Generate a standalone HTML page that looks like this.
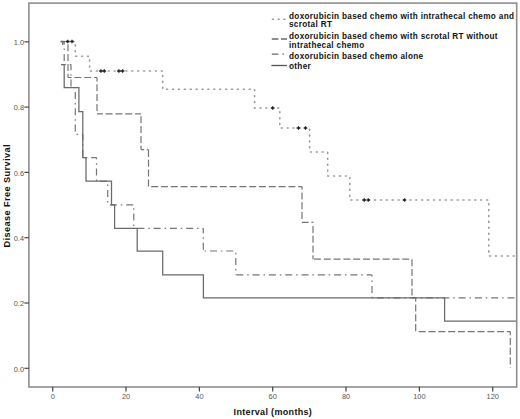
<!DOCTYPE html>
<html><head><meta charset="utf-8"><style>
html,body{margin:0;padding:0;background:#fff;}
body{width:520px;height:419px;overflow:hidden;}
svg{display:block;}
.tl{font-family:"Liberation Sans",sans-serif;font-size:7.4px;fill:#555;}
.lg{font-family:"Liberation Sans",sans-serif;font-size:8.2px;letter-spacing:0.32px;font-weight:bold;fill:#111;}
.at{font-family:"Liberation Sans",sans-serif;font-size:9px;letter-spacing:0.33px;font-weight:bold;fill:#111;}
.at2{font-family:"Liberation Sans",sans-serif;font-size:9.2px;letter-spacing:0.4px;font-weight:bold;fill:#111;}
</style></head><body>
<svg width="520" height="419" viewBox="0 0 520 419">
<rect x="28.9" y="3.1" width="487.8" height="383.9" fill="none" stroke="#8e8e8e" stroke-width="1.6"/>
<line x1="52.7" y1="386.8" x2="52.7" y2="391.5" stroke="#444" stroke-width="1.2"/>
<text x="52.7" y="399.3" class="tl" text-anchor="middle">0</text>
<line x1="126.0" y1="386.8" x2="126.0" y2="391.5" stroke="#444" stroke-width="1.2"/>
<text x="126.0" y="399.3" class="tl" text-anchor="middle">20</text>
<line x1="199.4" y1="386.8" x2="199.4" y2="391.5" stroke="#444" stroke-width="1.2"/>
<text x="199.4" y="399.3" class="tl" text-anchor="middle">40</text>
<line x1="272.7" y1="386.8" x2="272.7" y2="391.5" stroke="#444" stroke-width="1.2"/>
<text x="272.7" y="399.3" class="tl" text-anchor="middle">60</text>
<line x1="346.0" y1="386.8" x2="346.0" y2="391.5" stroke="#444" stroke-width="1.2"/>
<text x="346.0" y="399.3" class="tl" text-anchor="middle">80</text>
<line x1="419.4" y1="386.8" x2="419.4" y2="391.5" stroke="#444" stroke-width="1.2"/>
<text x="419.4" y="399.3" class="tl" text-anchor="middle">100</text>
<line x1="492.7" y1="386.8" x2="492.7" y2="391.5" stroke="#444" stroke-width="1.2"/>
<text x="492.7" y="399.3" class="tl" text-anchor="middle">120</text>
<line x1="24.4" y1="368.3" x2="28.9" y2="368.3" stroke="#444" stroke-width="1.2"/>
<text x="24" y="371.6" class="tl" text-anchor="end">0.0</text>
<line x1="24.4" y1="303.0" x2="28.9" y2="303.0" stroke="#444" stroke-width="1.2"/>
<text x="24" y="306.3" class="tl" text-anchor="end">0.2</text>
<line x1="24.4" y1="237.7" x2="28.9" y2="237.7" stroke="#444" stroke-width="1.2"/>
<text x="24" y="241.0" class="tl" text-anchor="end">0.4</text>
<line x1="24.4" y1="172.4" x2="28.9" y2="172.4" stroke="#444" stroke-width="1.2"/>
<text x="24" y="175.7" class="tl" text-anchor="end">0.6</text>
<line x1="24.4" y1="107.1" x2="28.9" y2="107.1" stroke="#444" stroke-width="1.2"/>
<text x="24" y="110.4" class="tl" text-anchor="end">0.8</text>
<line x1="24.4" y1="41.8" x2="28.9" y2="41.8" stroke="#444" stroke-width="1.2"/>
<text x="24" y="45.1" class="tl" text-anchor="end">1.0</text>
<path d="M61.0 41.5 L75.3 41.5 L75.3 56.3 L89.6 56.3 L89.6 71.0 L162.7 71.0 L162.7 89.3 L254.6 89.3 L254.6 108.0 L279.8 108.0 L279.8 128.0 L309.6 128.0 L309.6 152.0 L327.7 152.0 L327.7 176.0 L349.8 176.0 L349.8 200.0 L488.8 200.0 L488.8 256.0 L516.0 256.0" fill="none" stroke="#9a9a9a" stroke-width="1.6" stroke-dasharray="1.0 4.9" stroke-linecap="round"/>
<path d="M61.0 41.5 L68.0 41.5" fill="none" stroke="#767676" stroke-width="1.2" stroke-dasharray="7 2.8" stroke-dashoffset="0.00"/>
<path d="M68.0 41.5 L68.0 77.5" fill="none" stroke="#767676" stroke-width="1.2" stroke-dasharray="7 2.8" stroke-dashoffset="7.00"/>
<path d="M68.0 77.5 L97.0 77.5" fill="none" stroke="#767676" stroke-width="1.2" stroke-dasharray="7 2.8" stroke-dashoffset="3.40"/>
<path d="M97.0 77.5 L97.0 113.8" fill="none" stroke="#767676" stroke-width="1.2" stroke-dasharray="7 2.8" stroke-dashoffset="3.00"/>
<path d="M97.0 113.8 L141.0 113.8" fill="none" stroke="#767676" stroke-width="1.2" stroke-dasharray="7 2.8" stroke-dashoffset="1.20"/>
<path d="M141.0 113.8 L141.0 149.6" fill="none" stroke="#767676" stroke-width="1.2" stroke-dasharray="7 2.8" stroke-dashoffset="7.30"/>
<path d="M141.0 149.6 L148.5 149.6" fill="none" stroke="#767676" stroke-width="1.2" stroke-dasharray="7 2.8" stroke-dashoffset="3.90"/>
<path d="M148.5 149.6 L148.5 186.6" fill="none" stroke="#767676" stroke-width="1.2" stroke-dasharray="7 2.8" stroke-dashoffset="9.40"/>
<path d="M148.5 186.6 L302.0 186.6" fill="none" stroke="#767676" stroke-width="1.2" stroke-dasharray="7 2.8" stroke-dashoffset="7.10"/>
<path d="M302.0 186.6 L302.0 222.3" fill="none" stroke="#767676" stroke-width="1.2" stroke-dasharray="7 2.8" stroke-dashoffset="3.90"/>
<path d="M302.0 222.3 L313.0 222.3" fill="none" stroke="#767676" stroke-width="1.2" stroke-dasharray="7 2.8" stroke-dashoffset="0.40"/>
<path d="M313.0 222.3 L313.0 259.2" fill="none" stroke="#767676" stroke-width="1.2" stroke-dasharray="7 2.8" stroke-dashoffset="6.20"/>
<path d="M313.0 259.2 L412.0 259.2" fill="none" stroke="#767676" stroke-width="1.2" stroke-dasharray="7 2.8" stroke-dashoffset="8.80"/>
<path d="M412.0 259.2 L412.0 297.7" fill="none" stroke="#767676" stroke-width="1.2" stroke-dasharray="7 2.8" stroke-dashoffset="9.80"/>
<path d="M412.0 297.7 L415.7 297.7" fill="none" stroke="#767676" stroke-width="1.2" stroke-dasharray="7 2.8" stroke-dashoffset="9.10"/>
<path d="M415.7 297.7 L415.7 331.6" fill="none" stroke="#767676" stroke-width="1.2" stroke-dasharray="7 2.8" stroke-dashoffset="3.00"/>
<path d="M415.7 331.6 L510.3 331.6" fill="none" stroke="#767676" stroke-width="1.2" stroke-dasharray="7 2.8" stroke-dashoffset="6.80"/>
<path d="M510.3 331.6 L510.3 368.0" fill="none" stroke="#767676" stroke-width="1.2" stroke-dasharray="7 2.8" stroke-dashoffset="3.40"/>
<path d="M61.0 41.5 L64.2 41.5" fill="none" stroke="#767676" stroke-width="1.2" stroke-dasharray="7 3.9 1.5 3.9" stroke-dashoffset="0.00"/>
<path d="M64.2 41.5 L64.2 64.6" fill="none" stroke="#767676" stroke-width="1.2" stroke-dasharray="7 3.9 1.5 3.9" stroke-dashoffset="3.90"/>
<path d="M64.2 64.6 L71.0 64.6" fill="none" stroke="#767676" stroke-width="1.2" stroke-dasharray="7 3.9 1.5 3.9" stroke-dashoffset="10.70"/>
<path d="M71.0 64.6 L71.0 87.6" fill="none" stroke="#767676" stroke-width="1.2" stroke-dasharray="7 3.9 1.5 3.9" stroke-dashoffset="1.30"/>
<path d="M71.0 87.6 L75.3 87.6" fill="none" stroke="#767676" stroke-width="1.2" stroke-dasharray="7 3.9 1.5 3.9" stroke-dashoffset="8.00"/>
<path d="M75.3 87.6 L75.3 134.3" fill="none" stroke="#767676" stroke-width="1.2" stroke-dasharray="7 3.9 1.5 3.9" stroke-dashoffset="11.90"/>
<path d="M75.3 134.3 L82.8 134.3" fill="none" stroke="#767676" stroke-width="1.2" stroke-dasharray="7 3.9 1.5 3.9" stroke-dashoffset="9.70"/>
<path d="M82.8 134.3 L82.8 157.6" fill="none" stroke="#767676" stroke-width="1.2" stroke-dasharray="7 3.9 1.5 3.9" stroke-dashoffset="0.90"/>
<path d="M82.8 157.6 L96.5 157.6" fill="none" stroke="#767676" stroke-width="1.2" stroke-dasharray="7 3.9 1.5 3.9" stroke-dashoffset="7.90"/>
<path d="M96.5 157.6 L96.5 181.2" fill="none" stroke="#767676" stroke-width="1.2" stroke-dasharray="7 3.9 1.5 3.9" stroke-dashoffset="5.30"/>
<path d="M96.5 181.2 L107.7 181.2" fill="none" stroke="#767676" stroke-width="1.2" stroke-dasharray="7 3.9 1.5 3.9" stroke-dashoffset="12.60"/>
<path d="M107.7 181.2 L107.7 204.9" fill="none" stroke="#767676" stroke-width="1.2" stroke-dasharray="7 3.9 1.5 3.9" stroke-dashoffset="7.50"/>
<path d="M107.7 204.9 L133.8 204.9" fill="none" stroke="#767676" stroke-width="1.2" stroke-dasharray="7 3.9 1.5 3.9" stroke-dashoffset="14.10"/>
<path d="M133.8 204.9 L133.8 228.3" fill="none" stroke="#767676" stroke-width="1.2" stroke-dasharray="7 3.9 1.5 3.9" stroke-dashoffset="7.60"/>
<path d="M133.8 228.3 L203.3 228.3" fill="none" stroke="#767676" stroke-width="1.2" stroke-dasharray="7 3.9 1.5 3.9" stroke-dashoffset="12.80"/>
<path d="M203.3 228.3 L203.3 251.0" fill="none" stroke="#767676" stroke-width="1.2" stroke-dasharray="7 3.9 1.5 3.9" stroke-dashoffset="1.90"/>
<path d="M203.3 251.0 L235.8 251.0" fill="none" stroke="#767676" stroke-width="1.2" stroke-dasharray="7 3.9 1.5 3.9" stroke-dashoffset="9.60"/>
<path d="M235.8 251.0 L235.8 274.9" fill="none" stroke="#767676" stroke-width="1.2" stroke-dasharray="7 3.9 1.5 3.9" stroke-dashoffset="9.20"/>
<path d="M235.8 274.9 L372.0 274.9" fill="none" stroke="#767676" stroke-width="1.2" stroke-dasharray="7 3.9 1.5 3.9" stroke-dashoffset="15.80"/>
<path d="M372.0 274.9 L372.0 297.9" fill="none" stroke="#767676" stroke-width="1.2" stroke-dasharray="7 3.9 1.5 3.9" stroke-dashoffset="5.30"/>
<path d="M372.0 297.9 L516.0 297.9" fill="none" stroke="#767676" stroke-width="1.2" stroke-dasharray="7 3.9 1.5 3.9" stroke-dashoffset="11.20"/>
<path d="M61.0 64.6 L64.2 64.6 L64.2 87.6 L78.9 87.6 L78.9 111.5 L82.8 111.5 L82.8 157.6 L86.0 157.6 L86.0 181.2 L111.5 181.2 L111.5 204.9 L114.6 204.9 L114.6 228.3 L137.2 228.3 L137.2 251.0 L162.7 251.0 L162.7 274.9 L203.4 274.9 L203.4 297.9 L444.6 297.9 L444.6 321.0 L516.0 321.0" fill="none" stroke="#6a6a6a" stroke-width="1.25"/>
<path d="M66.0 41.5h3.6M67.8 39.7v3.6" stroke="#222" stroke-width="1.3"/>
<path d="M70.2 41.5h3.6M72.0 39.7v3.6" stroke="#222" stroke-width="1.3"/>
<path d="M99.1 71.0h3.6M100.9 69.2v3.6" stroke="#222" stroke-width="1.3"/>
<path d="M102.5 71.0h3.6M104.3 69.2v3.6" stroke="#222" stroke-width="1.3"/>
<path d="M117.1 71.0h3.6M118.9 69.2v3.6" stroke="#222" stroke-width="1.3"/>
<path d="M120.8 71.0h3.6M122.6 69.2v3.6" stroke="#222" stroke-width="1.3"/>
<path d="M270.9 108.0h3.6M272.7 106.2v3.6" stroke="#222" stroke-width="1.3"/>
<path d="M296.6 128.0h3.6M298.4 126.2v3.6" stroke="#222" stroke-width="1.3"/>
<path d="M303.7 128.0h3.6M305.5 126.2v3.6" stroke="#222" stroke-width="1.3"/>
<path d="M362.5 200.0h3.6M364.3 198.2v3.6" stroke="#222" stroke-width="1.3"/>
<path d="M366.5 200.0h3.6M368.3 198.2v3.6" stroke="#222" stroke-width="1.3"/>
<path d="M402.7 200.0h3.6M404.5 198.2v3.6" stroke="#222" stroke-width="1.3"/>
<path d="M60.8 41.5 H65 M62.8 41.5 V45" fill="none" stroke="#6a6a6a" stroke-width="1.25"/>
<path d="M272.4 19.2 L286 19.2" fill="none" stroke="#9a9a9a" stroke-width="1.6" stroke-dasharray="1.0 4.75" stroke-linecap="round"/>
<path d="M271.8 39 L287 39" fill="none" stroke="#6a6a6a" stroke-width="1.3" stroke-dasharray="6.6 2.6"/>
<path d="M271.8 54.2 L284 54.2" fill="none" stroke="#6a6a6a" stroke-width="1.3" stroke-dasharray="6.6 4 1.5 20"/>
<path d="M271.4 65.5 L286.9 65.5" fill="none" stroke="#555" stroke-width="1.3"/>
<text x="289" y="18.7" class="lg">doxorubicin based chemo with intrathecal chemo and</text>
<text x="289" y="27.3" class="lg">scrotal RT</text>
<text x="289" y="38.7" class="lg">doxorubicin based chemo with scrotal RT without</text>
<text x="289" y="47.6" class="lg">intrathecal chemo</text>
<text x="289" y="58.7" class="lg">doxorubicin based chemo alone</text>
<text x="289" y="69.0" class="lg">other</text>
<text x="272.9" y="415.3" class="at" text-anchor="middle">Interval (months)</text>
<text transform="translate(10,195.8) rotate(-90)" x="0" y="0" class="at2" text-anchor="middle">Disease Free Survival</text>
</svg>
</body></html>
